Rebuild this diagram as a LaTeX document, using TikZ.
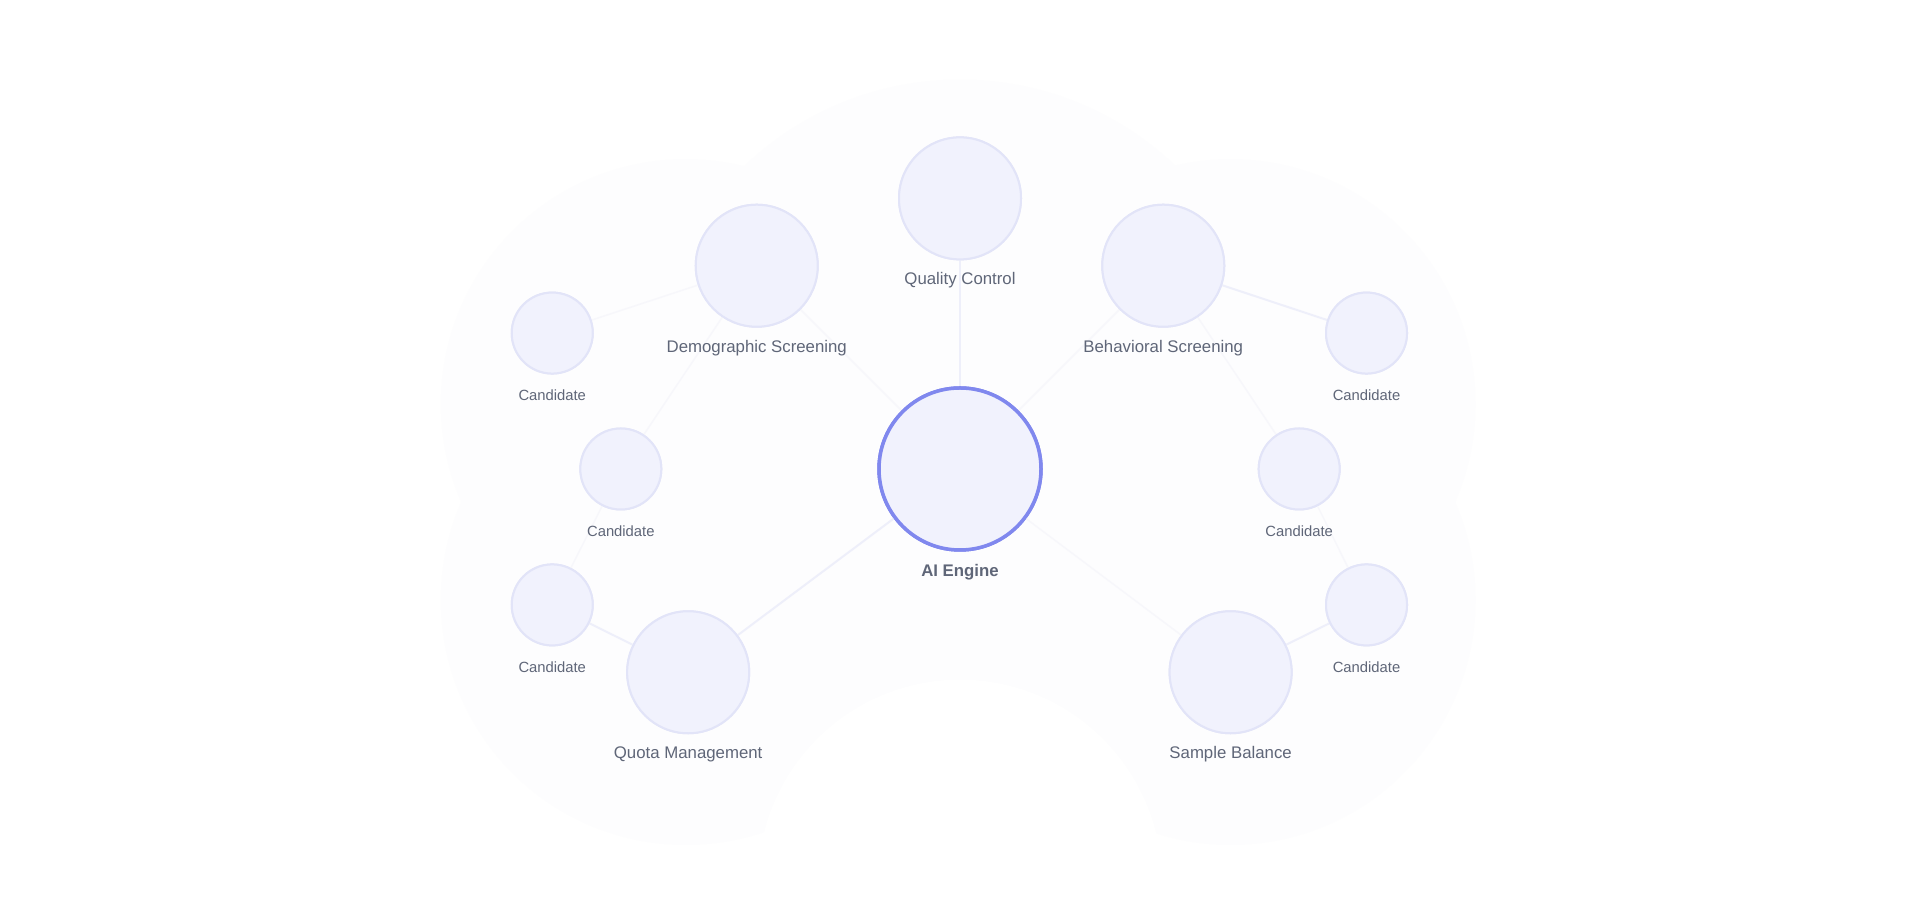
\documentclass[tikz,border=0pt]{standalone}
\usepackage{fontspec}
\setmainfont{Liberation Sans}
\definecolor{txt}{HTML}{5F6678}
\definecolor{nfill}{HTML}{F1F2FD}
\definecolor{nline}{HTML}{E2E4F8}
\definecolor{hub}{HTML}{8088EE}
\definecolor{edge}{HTML}{EEEFFA}
\definecolor{faint}{HTML}{F7F7FB}
\definecolor{blob}{HTML}{FDFDFE}
\tikzset{
  big/.style={circle,fill=nfill,draw=nline,line width=2pt,minimum size=122pt,inner sep=0pt},
  small/.style={circle,fill=nfill,draw=nline,line width=2pt,minimum size=81pt,inner sep=0pt},
  hubnode/.style={circle,fill=nfill,draw=hub,line width=3.5pt,minimum size=162pt,inner sep=0pt},
  lbl/.style={text=txt,font=\fontsize{16.8}{19}\selectfont},
  clbl/.style={text=txt,font=\fontsize{14.8}{17}\selectfont},
  ln/.style={draw=edge,line width=2pt},
  fl/.style={draw=faint,line width=1.5pt}
}
\begin{document}
\begin{tikzpicture}[x=1.2245pt,y=-1.2245pt]
\useasboundingbox (0,0) rectangle (1568,735);
\fill[white] (0,0) rectangle (1568,735);
\fill[blob] (784,320) circle (255);
\fill[blob] (560,490) circle (200);
\fill[blob] (1005,490) circle (200);
\fill[blob] (560,330) circle (200);
\fill[blob] (1005,330) circle (200);
\fill[white] (784,720) circle (165);
% nodes
\node[hubnode] (ai) at (784,383) {};
\node[big] (qc) at (784,162) {};
\node[big] (dem) at (618,217) {};
\node[big] (beh) at (950,217) {};
\node[big] (quo) at (562,549) {};
\node[big] (sam) at (1005,549) {};
\node[small] (c1) at (451,272) {};
\node[small] (c2) at (507,383) {};
\node[small] (c3) at (451,494) {};
\node[small] (c4) at (1116,272) {};
\node[small] (c5) at (1061,383) {};
\node[small] (c6) at (1116,494) {};
% edges
\path[fl] (ai) -- (dem);
\path[fl] (ai) -- (beh);
\path[fl] (ai) -- (sam);
\path[fl] (dem) -- (c1);
\path[fl] (dem) -- (c2);
\path[fl] (beh) -- (c5);
\path[fl] (c2) -- (c3);
\path[fl] (c5) -- (c6);
\path[ln] (ai) -- (qc);
\path[ln] (ai) -- (quo);
\path[ln] (beh) -- (c4);
\path[ln] (quo) -- (c3);
\path[ln] (sam) -- (c6);
% redraw nodes on top
\node[hubnode] at (784,383) {};
\node[big] at (784,162) {};
\node[big] at (618,217) {};
\node[big] at (950,217) {};
\node[big] at (562,549) {};
\node[big] at (1005,549) {};
\foreach \p in {(451,272),(507,383),(451,494),(1116,272),(1061,383),(1116,494)} \node[small] at \p {};
% labels
\node[lbl,font=\fontsize{16.8}{19}\selectfont\bfseries] (lai) at (784,467) {AI Engine};
\node[lbl] (lqc) at (784,229) {Quality Control};
\node[lbl] (ldem) at (618,284) {Demographic Screening};
\node[lbl] (lbeh) at (950,284) {Behavioral Screening};
\node[lbl] (lquo) at (562,616) {Quota Management};
\node[lbl] (lsam) at (1005,616) {Sample Balance};
\node[clbl] (l1) at (451,323) {Candidate};
\node[clbl] (l2) at (507,434) {Candidate};
\node[clbl] (l3) at (451,545) {Candidate};
\node[clbl] (l4) at (1116,323) {Candidate};
\node[clbl] (l5) at (1061,434) {Candidate};
\node[clbl] (l6) at (1116,545) {Candidate};
\end{tikzpicture}
\end{document}
